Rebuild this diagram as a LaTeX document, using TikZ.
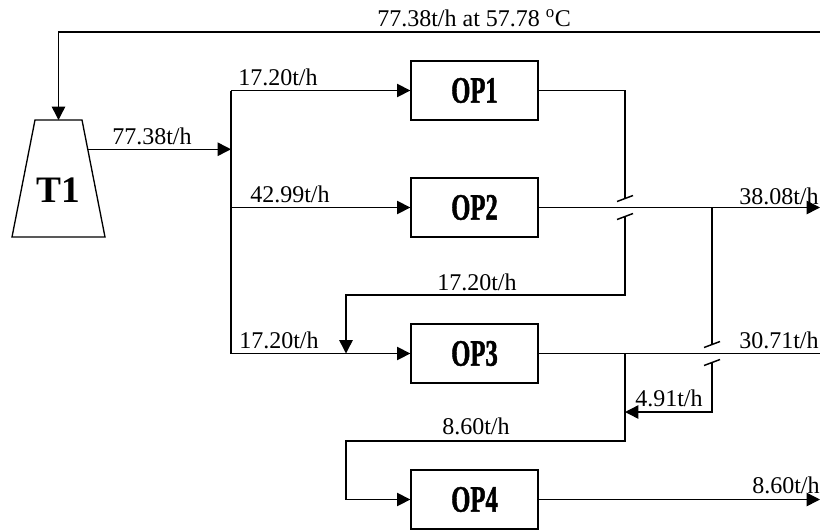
\documentclass[tikz,border=0pt]{standalone}
\usepackage{fontspec}
\setmainfont{Liberation Serif}
\newfontfamily\opfont[FakeStretch=0.66,FakeBold=1.2]{Liberation Serif}
\usetikzlibrary{shapes.geometric,arrows.meta,positioning,calc}
\tikzset{
  opbox/.style={
    draw, line width=1pt,
    minimum width=95.25pt, minimum height=44.25pt,
    inner sep=0pt, font=\opfont\fontsize{28}{28}\bfseries\selectfont
  },
  tankline/.style={draw, line width=1pt, line join=miter},
  tanklbl/.style={font=\fontsize{28}{28}\bfseries\selectfont, inner sep=0pt},
  flowlbl/.style={font=\fontsize{18}{18}\selectfont,
                  inner sep=0pt, anchor=base west},
  pipeline/.style={draw, line width=1.1pt},
  flowarr/.style={pipeline, -{Triangle[length=10pt,width=10pt]}}
}
\begin{document}
\begin{tikzpicture}[x=0.75pt, y=-0.75pt]
  \useasboundingbox (0,0) rectangle (820,529);

  \coordinate (tnw) at (35,120);
  \coordinate (tne) at (82,120);
  \coordinate (tse) at (105,237);
  \coordinate (tsw) at (12,237);
  \draw[tankline] (tnw) -- (tne) -- (tse) -- (tsw) -- cycle;
  \node[tanklbl] (t1) at (58.5,190.5) {T1};
  \coordinate (tanktop) at ($(tnw)!0.5!(tne)$);
  \coordinate (t1out) at ($(tne)!0.25!(tse)$);

  \foreach \n/\y in {1/90.5,2/207.5,3/353.5,4/499.5}
    \node[opbox] (op\n) at (474.5,\y) {OP\n};

  \coordinate (mfd)   at (231,0);
  \coordinate (colA)  at (625,0);
  \coordinate (colB)  at (712,0);
  \coordinate (rim)   at (820,0);
  \coordinate (recyc) at (821,32);
  \coordinate (mixtop) at (346,295);
  \coordinate (looptop) at (346,441);
  \coordinate (ret)   at (625,412);
  \coordinate (cr1)   at (op2.east -| colA);
  \coordinate (cr2)   at (op3.east -| colB);

  \draw[flowarr] (recyc) -| (tanktop);
  \draw[flowarr] (t1out) -- (t1out -| mfd);
  \draw[pipeline] (op1 -| mfd) -- (op3 -| mfd);
  \foreach \n in {1,2,3}
    \draw[flowarr] (op\n -| mfd) -- (op\n.west);

  \draw[pipeline] (op1.east) -| ($(cr1)+(0,-9)$);
  \draw[flowarr] ($(cr1)+(0,9)$) |- (mixtop) -- (mixtop |- op3);

  \draw[flowarr] (op2.east) -- (op2.east -| rim);
  \draw[pipeline] (op2.east -| colB) -- ($(cr2)+(0,-9)$);
  \draw[flowarr] ($(cr2)+(0,9)$) |- (ret);

  \draw[pipeline] (op3.east) -- (op3.east -| rim);
  \draw[flowarr] (op3.east -| colA) |- (looptop) |- (op4.west);
  \draw[flowarr] (op4.east) -- (op4.east -| rim);

  \foreach \c in {cr1,cr2}
    \foreach \d in {-9,9}
      \draw[pipeline] ($(\c)+(-8,\d+3)$) -- ($(\c)+(8,\d-3)$);

  \node[flowlbl] (frec) at (377,26) {77.38t/h at 57.78 \textsuperscript{o}C};
  \node[flowlbl] (f0) at (112,144) {77.38t/h};
  \node[flowlbl] (f1) at (238,85)  {17.20t/h};
  \node[flowlbl] (f2) at (250,202) {42.99t/h};
  \node[flowlbl] (f3) at (239,348) {17.20t/h};
  \node[flowlbl] (f4) at (437,290) {17.20t/h};
  \node[flowlbl] (f5) at (442,434) {8.60t/h};
  \node[flowlbl] (f6) at (739,204) {38.08t/h};
  \node[flowlbl] (f7) at (739,348) {30.71t/h};
  \node[flowlbl] (f8) at (635,406) {4.91t/h};
  \node[flowlbl] (f9) at (752,493) {8.60t/h};
\end{tikzpicture}
\end{document}
